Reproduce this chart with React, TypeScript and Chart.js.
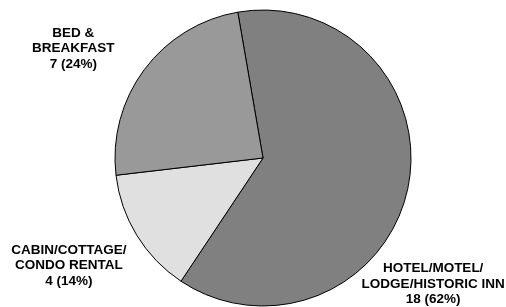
import React, { useEffect, useRef } from "react";
import { Chart, registerables } from "chart.js";

Chart.register(...registerables);

const categories = ["HOTEL/MOTEL/\nLODGE/HISTORIC INN", "CABIN/COTTAGE/\nCONDO RENTAL", "BED &\nBREAKFAST"];
const counts = [18, 4, 7];
const colors = ["#808080", "#e0e0e0", "#999999"];
// label placement: angle (deg, clockwise from top) and distance as a multiple of radius
const labelAngles = [126.5, 241, 300];
const labelDists = [1.43, 1.5, 1.48];

const labelPlugin = {
  id: "outsideLabels",
  afterDraw(chart: any) {
    const ctx = chart.ctx;
    const meta = chart.getDatasetMeta(0);
    const data = chart.data.datasets[0].data as number[];
    const total = data.reduce((a: number, b: number) => a + b, 0);
    ctx.save();
    ctx.font = "bold 13.5px 'Liberation Sans', Arial, sans-serif";
    ctx.fillStyle = "#000";
    ctx.textAlign = "center";
    ctx.textBaseline = "middle";
    meta.data.forEach((arc: any, i: number) => {
      const { x, y, outerRadius } = arc.getProps(["x", "y", "outerRadius"], true);
      const a = (labelAngles[i] * Math.PI) / 180;
      const d = outerRadius * labelDists[i];
      const cx = x + d * Math.sin(a);
      const cy = y - d * Math.cos(a);
      const pct = Math.round((data[i] / total) * 100);
      const lines = String(chart.data.labels[i]).split("\n").concat([`${data[i]} (${pct}%)`]);
      const lh = 15.5;
      lines.forEach((ln: string, k: number) => {
        ctx.fillText(ln, cx, cy + (k - (lines.length - 1) / 2) * lh);
      });
    });
    ctx.restore();
  },
};

export default function App() {
  const ref = useRef<HTMLCanvasElement>(null);
  useEffect(() => {
    document.body.style.margin = "0";
    const chart = new Chart(ref.current!, {
      type: "pie",
      data: {
        labels: categories,
        datasets: [
          {
            data: counts,
            backgroundColor: colors,
            borderColor: "#000",
            borderWidth: 1,
            hoverBorderWidth: 1,
            radius: 148,
          } as any,
        ],
      },
      options: {
        animation: false,
        responsive: false,
        rotation: -9.8,
        layout: { padding: { top: 10, bottom: 1, left: 20, right: 0 } },
        plugins: { legend: { display: false }, tooltip: { enabled: false } },
      },
      plugins: [labelPlugin],
    });
    return () => chart.destroy();
  }, []);
  return (
    <div style={{ position: "absolute", left: 0, top: 0, width: 506, height: 307, background: "#fff" }}>
      <canvas ref={ref} width={506} height={307} style={{ width: 506, height: 307 }} />
    </div>
  );
}
